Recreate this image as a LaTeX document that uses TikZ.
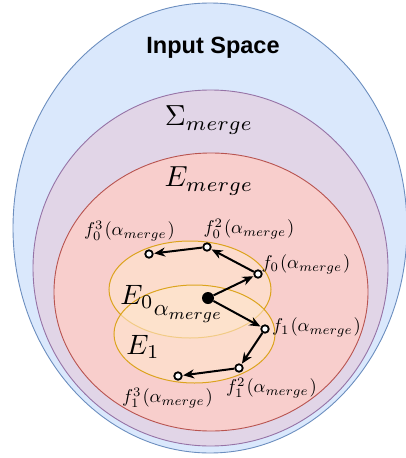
\documentclass[tikz,border=0pt]{standalone}
\usepackage{fontspec}
\usepackage{graphicx}
\newfontfamily\helv{Liberation Sans}
\usetikzlibrary{arrows.meta}
\definecolor{bluefill}{HTML}{DAE8FC}
\definecolor{bluestroke}{HTML}{6C8EBF}
\definecolor{purplefill}{HTML}{E1D5E7}
\definecolor{purplestroke}{HTML}{9673A6}
\definecolor{redfill}{HTML}{F8CECC}
\definecolor{redstroke}{HTML}{B85450}
\definecolor{orangefill}{HTML}{FFE6CC}
\definecolor{orangestroke}{HTML}{D79B00}
\newcommand{\myLblMath}[1]{\scalebox{1.85}{$#1$}}
\newcommand{\myBigMath}[1]{\scalebox{2.9}{$#1$}}
\tikzset{
  region/.style={line width=0.9pt},
  subset/.style={line width=1pt, draw=orangestroke, fill=orangefill, fill opacity=0.6, draw opacity=0.85},
  pt/.style={circle, draw=black, fill=white, line width=1.8pt, minimum size=7.5pt, inner sep=0pt},
  centre/.style={circle, fill=black, minimum size=12pt, inner sep=0pt},
  arr/.style={line width=2pt, -{Stealth[length=11pt,width=9pt,inset=3.5pt]}, shorten >=0.5pt},
  lbl/.style={inner sep=0pt},
}
\begin{document}
\begin{tikzpicture}[x=1pt,y=-1pt]
\useasboundingbox (0,0) rectangle (406,458);
\draw[region, draw=bluestroke, fill=bluefill] (210,228) ellipse [x radius=197pt, y radius=225pt];
\draw[region, draw=purplestroke, fill=purplefill] (210.5,268) ellipse [x radius=177.5pt, y radius=178pt];
\draw[region, draw=redstroke, fill=redfill] (211,292) ellipse [x radius=157pt, y radius=139pt];
\draw[subset] (190,289.5) ellipse [x radius=81pt, y radius=48.5pt];
\draw[subset] (194.5,334) ellipse [x radius=80.5pt, y radius=49pt];

\node[font=\helv\bfseries\fontsize{23.5}{28}\selectfont, inner sep=0pt] (title) at (213,48) {Input Space};
\node[lbl] (sig) at (209,120) {\myBigMath{\Sigma_{merge}}};
\node[lbl] (emerge) at (209,181) {\myBigMath{E_{merge}}};
\node[lbl] (e0) at (137,297) {\scalebox{2.8}{$E_0$}};
\node[lbl] (e1) at (143,347) {\scalebox{2.8}{$E_1$}};
\node[lbl] (alab) at (188,314) {\scalebox{2.3}{$\alpha_{merge}$}};

\node[centre] (a) at (208,298) {};
\node[pt] (f0) at (258,274) {};
\node[pt] (f02) at (207,247) {};
\node[pt] (f03) at (149,254) {};
\node[pt] (f1) at (265,329) {};
\node[pt] (f12) at (239,368) {};
\node[pt] (f13) at (178,376) {};

\draw[arr] (a) -- (f0);
\draw[arr] (f0) -- (f02);
\draw[arr] (f02) -- (f03);
\draw[arr] (a) -- (f1);
\draw[arr] (f1) -- (f12);
\draw[arr] (f12) -- (f13);

\node[lbl] (l03) at (129.5,231) {\myLblMath{f_0^3\mkern1mu(\alpha_{merge}\mkern1mu)}};
\node[lbl] (l02) at (249,229) {\myLblMath{f_0^2\mkern1mu(\alpha_{merge}\mkern1mu)}};
\node[lbl] (l01) at (306,264) {\myLblMath{f_0\mkern1mu(\alpha_{merge}\mkern1mu)}};
\node[lbl] (l11) at (316.5,327) {\myLblMath{f_1\mkern1mu(\alpha_{merge}\mkern1mu)}};
\node[lbl] (l12) at (271.5,388) {\myLblMath{f_1^2\mkern1mu(\alpha_{merge}\mkern1mu)}};
\node[lbl] (l13) at (167.5,398) {\myLblMath{f_1^3\mkern1mu(\alpha_{merge}\mkern1mu)}};
\end{tikzpicture}
\end{document}
